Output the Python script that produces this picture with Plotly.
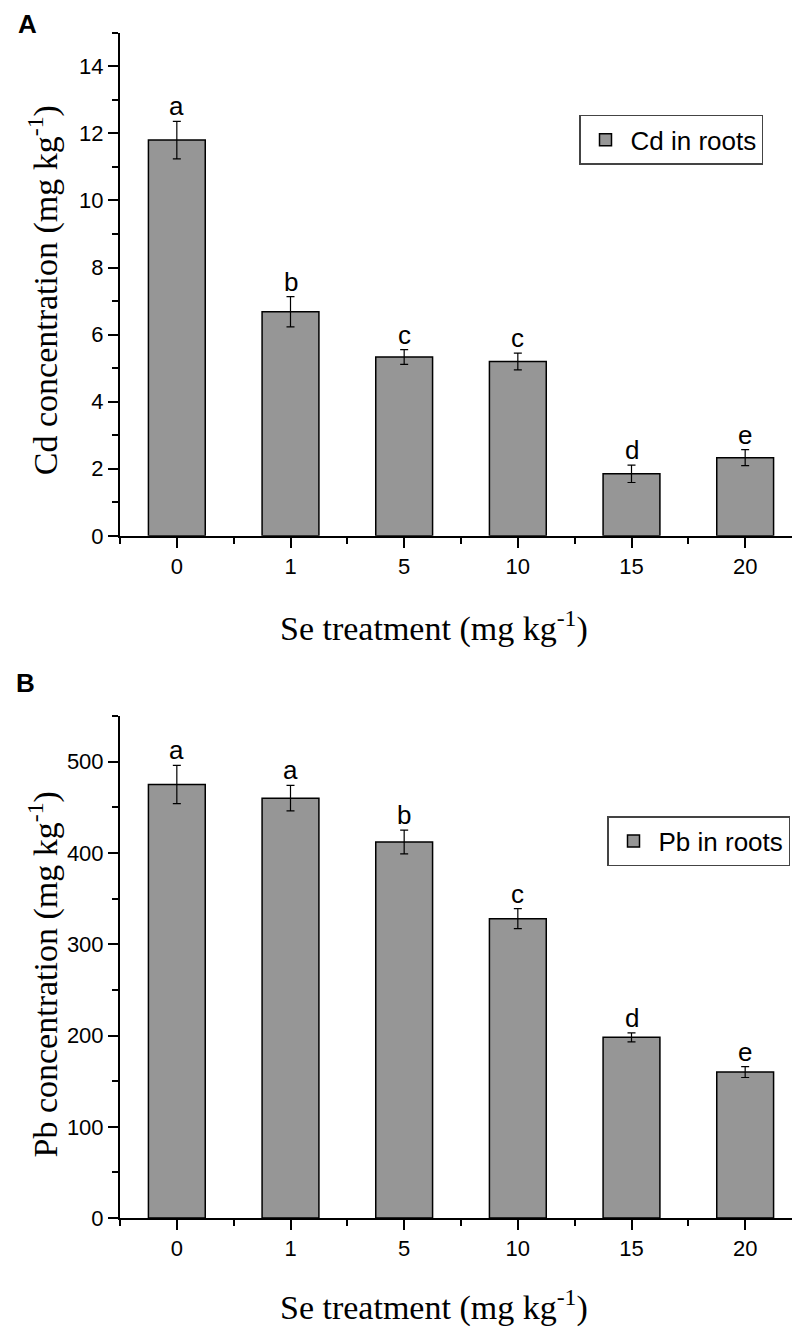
import plotly.graph_objects as go

treatments = ["0", "1", "5", "10", "15", "20"]
cd_values = [11.8, 6.68, 5.33, 5.2, 1.85, 2.33]
cd_errors = [0.56, 0.45, 0.22, 0.25, 0.26, 0.24]
cd_letters = ["a", "b", "c", "c", "d", "e"]
pb_values = [475, 460, 412, 328, 198, 160]
pb_errors = [21, 14, 13, 11, 5, 6]
pb_letters = ["a", "a", "b", "c", "d", "e"]

xs = list(range(len(treatments)))
W, H = 800, 1333
SANS = "Arial, Liberation Sans, sans-serif"
SERIF = "Times New Roman, Liberation Serif, serif"

fig = go.Figure()
fig.add_trace(go.Bar(
    x=xs, y=cd_values, width=0.5, name="Cd in roots",
    marker=dict(color="#969696", line=dict(color="black", width=1.5)),
    error_y=dict(type="data", array=cd_errors, color="black", thickness=1.2, width=4),
    xaxis="x", yaxis="y", legend="legend",
))
fig.add_trace(go.Bar(
    x=xs, y=pb_values, width=0.5, name="Pb in roots",
    marker=dict(color="#969696", line=dict(color="black", width=1.5)),
    error_y=dict(type="data", array=pb_errors, color="black", thickness=1.2, width=4),
    xaxis="x2", yaxis="y2", legend="legend2",
))

xdom = [112 / W, 794 / W]
top_dom = [1 - 533 / H, 1 - 25 / H]
bot_dom = [1 - 1222 / H, 1 - 715 / H]

def xaxis_cfg(anchor):
    return dict(
        domain=xdom, anchor=anchor, range=[-0.5, 5.5],
        tickmode="array", tickvals=xs, ticktext=treatments,
        showline=True, linecolor="black", linewidth=2,
        ticks="outside", ticklen=10, tickwidth=1.5, tickcolor="black",
        minor=dict(tick0=0.5, dtick=1, ticks="outside", ticklen=6,
                   tickwidth=1.5, tickcolor="black"),
        showgrid=False, zeroline=False,
        tickfont=dict(family=SANS, size=22, color="black"),
    )

def yaxis_cfg(anchor, dom, rng, dtick):
    return dict(
        domain=dom, anchor=anchor, range=rng, dtick=dtick, tick0=0,
        showline=True, linecolor="black", linewidth=2,
        ticks="outside", ticklen=10, tickwidth=1.5, tickcolor="black",
        minor=dict(dtick=dtick / 2, ticks="outside", ticklen=6,
                   tickwidth=1.5, tickcolor="black"),
        showgrid=False, zeroline=False,
        tickfont=dict(family=SANS, size=22, color="black"),
    )

annotations = []
for i, (v, e, l) in enumerate(zip(cd_values, cd_errors, cd_letters)):
    annotations.append(dict(x=i, y=v + e, xref="x", yref="y", text=l,
                            showarrow=False, yanchor="middle", yshift=15,
                            font=dict(family=SANS, size=26, color="black")))
for i, (v, e, l) in enumerate(zip(pb_values, pb_errors, pb_letters)):
    annotations.append(dict(x=i, y=v + e, xref="x2", yref="y2", text=l,
                            showarrow=False, yanchor="middle", yshift=15,
                            font=dict(family=SANS, size=26, color="black")))

title_font = dict(family=SERIF, size=34, color="black")
annotations += [
    dict(x=426 / W, y=1 - 625 / H, xref="paper", yref="paper",
         text="Se treatment (mg kg<sup>-1</sup>)", showarrow=False,
         xanchor="center", yanchor="middle", font=title_font),
    dict(x=426 / W, y=1 - 1310 / H, xref="paper", yref="paper",
         text="Se treatment (mg kg<sup>-1</sup>)", showarrow=False,
         xanchor="center", yanchor="middle", font=title_font),
    dict(x=35 / W, y=1 - 285 / H, xref="paper", yref="paper",
         text="Cd concentration (mg kg<sup>-1</sup>)", showarrow=False,
         textangle=-90, xanchor="center", yanchor="middle", font=title_font),
    dict(x=35 / W, y=1 - 976 / H, xref="paper", yref="paper",
         text="Pb concentration (mg kg<sup>-1</sup>)", showarrow=False,
         textangle=-90, xanchor="center", yanchor="middle", font=title_font),
    dict(x=19 / W, y=1 - 16 / H, xref="paper", yref="paper", text="<b>A</b>",
         showarrow=False, xanchor="center", yanchor="middle",
         font=dict(family=SANS, size=26, color="black")),
    dict(x=17 / W, y=1 - 682 / H, xref="paper", yref="paper", text="<b>B</b>",
         showarrow=False, xanchor="center", yanchor="middle",
         font=dict(family=SANS, size=26, color="black")),
]

legend_common = dict(
    bgcolor="white", bordercolor="#444", borderwidth=1.5,
    font=dict(family=SANS, size=26, color="black"),
    xanchor="right", yanchor="top", itemwidth=40,
)

fig.update_layout(
    width=W, height=H,
    margin=dict(l=0, r=0, t=0, b=0),
    paper_bgcolor="white", plot_bgcolor="white",
    showlegend=True, bargap=0.5,
    xaxis=xaxis_cfg("y"),
    yaxis=yaxis_cfg("x", top_dom, [0, 15], 2),
    xaxis2=xaxis_cfg("y2"),
    yaxis2=yaxis_cfg("x2", bot_dom, [0, 550], 100),
    legend=dict(x=755 / W, y=1 - 108 / H, **legend_common),
    legend2=dict(x=782 / W, y=1 - 816 / H, **legend_common),
    annotations=annotations,
)

fig.write_html("out.html")
